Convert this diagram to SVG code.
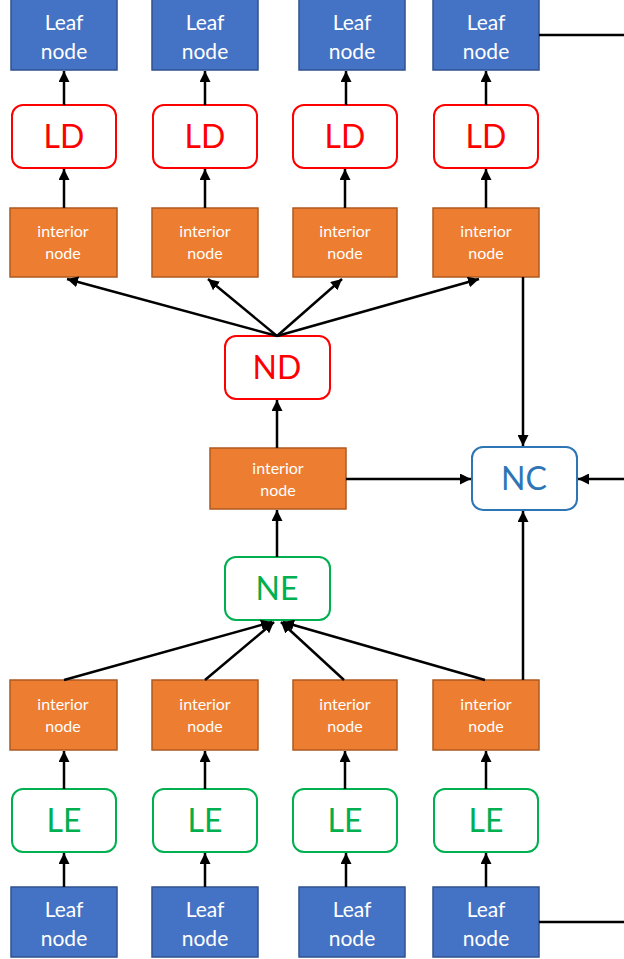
<svg xmlns="http://www.w3.org/2000/svg" width="624" height="959" viewBox="0 0 624 959">
<defs>
<marker id="ah" viewBox="0 0 10 10" refX="10" refY="5" markerWidth="4.4" markerHeight="4.4" markerUnits="strokeWidth" orient="auto">
<path d="M0,0 L10,5 L0,10 z" fill="#000"/>
</marker>
<style>
.leaf{fill:#4472C4;stroke:#2F528F;stroke-width:1.5}
.int{fill:#ED7D31;stroke:#AE5A21;stroke-width:1.5}
.ld{fill:#fff;stroke:#FF0000;stroke-width:2}
.le{fill:#fff;stroke:#00B050;stroke-width:2}
.nc{fill:#fff;stroke:#2E75B6;stroke-width:2}
.tl{font-family:Lato,"Open Sans",sans-serif;font-size:21px;fill:#fff;text-anchor:middle}
.ti{font-family:Lato,"Open Sans",sans-serif;font-size:16px;fill:#fff;text-anchor:middle}
.tb{font-family:Lato,"Open Sans",sans-serif;font-size:32px;text-anchor:middle}
.c{stroke:#000;stroke-width:2.5;fill:none}
.a{marker-end:url(#ah)}
</style>
</defs>

<g id="leaf-top-1"><rect class="leaf" x="11" y="-1" width="106" height="71"/><text class="tl" x="64" y="30">Leaf</text><text class="tl" x="64" y="59">node</text></g>
<g id="leaf-top-2"><rect class="leaf" x="152" y="-1" width="106" height="71"/><text class="tl" x="205" y="30">Leaf</text><text class="tl" x="205" y="59">node</text></g>
<g id="leaf-top-3"><rect class="leaf" x="299" y="-1" width="106" height="71"/><text class="tl" x="352" y="30">Leaf</text><text class="tl" x="352" y="59">node</text></g>
<g id="leaf-top-4"><rect class="leaf" x="433" y="-1" width="106" height="71"/><text class="tl" x="486" y="30">Leaf</text><text class="tl" x="486" y="59">node</text></g>

<g id="ld-1"><rect class="ld" x="12" y="105" width="104" height="63" rx="11"/><text class="tb" x="64" y="148" fill="#FF0000">LD</text></g>
<g id="ld-2"><rect class="ld" x="153" y="105" width="104" height="63" rx="11"/><text class="tb" x="205" y="148" fill="#FF0000">LD</text></g>
<g id="ld-3"><rect class="ld" x="293" y="105" width="104" height="63" rx="11"/><text class="tb" x="345" y="148" fill="#FF0000">LD</text></g>
<g id="ld-4"><rect class="ld" x="434" y="105" width="104" height="63" rx="11"/><text class="tb" x="486" y="148" fill="#FF0000">LD</text></g>

<g id="int-top-1"><rect class="int" x="10" y="208" width="107" height="69"/><text class="ti" x="63" y="237">interior</text><text class="ti" x="63" y="259">node</text></g>
<g id="int-top-2"><rect class="int" x="152" y="208" width="106" height="69"/><text class="ti" x="205" y="237">interior</text><text class="ti" x="205" y="259">node</text></g>
<g id="int-top-3"><rect class="int" x="293" y="208" width="104" height="69"/><text class="ti" x="345" y="237">interior</text><text class="ti" x="345" y="259">node</text></g>
<g id="int-top-4"><rect class="int" x="433" y="208" width="106" height="69"/><text class="ti" x="486" y="237">interior</text><text class="ti" x="486" y="259">node</text></g>

<g id="nd"><rect class="ld" x="225" y="336" width="105" height="63" rx="11"/><text class="tb" x="277" y="379" fill="#FF0000">ND</text></g>

<g id="int-mid"><rect class="int" x="210" y="448" width="136" height="61"/><text class="ti" x="278" y="474">interior</text><text class="ti" x="278" y="496">node</text></g>

<g id="nc"><rect class="nc" x="472" y="447" width="105" height="63" rx="11"/><text class="tb" x="524" y="490" fill="#2E75B6">NC</text></g>

<g id="ne"><rect class="le" x="225" y="557" width="105" height="63" rx="11"/><text class="tb" x="277" y="600" fill="#00B050">NE</text></g>

<g id="int-bot-1"><rect class="int" x="10" y="680" width="107" height="70"/><text class="ti" x="63" y="710">interior</text><text class="ti" x="63" y="732">node</text></g>
<g id="int-bot-2"><rect class="int" x="152" y="680" width="106" height="70"/><text class="ti" x="205" y="710">interior</text><text class="ti" x="205" y="732">node</text></g>
<g id="int-bot-3"><rect class="int" x="293" y="680" width="104" height="70"/><text class="ti" x="345" y="710">interior</text><text class="ti" x="345" y="732">node</text></g>
<g id="int-bot-4"><rect class="int" x="433" y="680" width="106" height="70"/><text class="ti" x="486" y="710">interior</text><text class="ti" x="486" y="732">node</text></g>

<g id="le-1"><rect class="le" x="12" y="789" width="104" height="63" rx="11"/><text class="tb" x="64" y="832" fill="#00B050">LE</text></g>
<g id="le-2"><rect class="le" x="153" y="789" width="104" height="63" rx="11"/><text class="tb" x="205" y="832" fill="#00B050">LE</text></g>
<g id="le-3"><rect class="le" x="293" y="789" width="104" height="63" rx="11"/><text class="tb" x="345" y="832" fill="#00B050">LE</text></g>
<g id="le-4"><rect class="le" x="434" y="789" width="104" height="63" rx="11"/><text class="tb" x="486" y="832" fill="#00B050">LE</text></g>

<g id="leaf-bot-1"><rect class="leaf" x="11" y="887" width="106" height="70"/><text class="tl" x="64" y="917">Leaf</text><text class="tl" x="64" y="946">node</text></g>
<g id="leaf-bot-2"><rect class="leaf" x="152" y="887" width="106" height="70"/><text class="tl" x="205" y="917">Leaf</text><text class="tl" x="205" y="946">node</text></g>
<g id="leaf-bot-3"><rect class="leaf" x="299" y="887" width="106" height="70"/><text class="tl" x="352" y="917">Leaf</text><text class="tl" x="352" y="946">node</text></g>
<g id="leaf-bot-4"><rect class="leaf" x="433" y="887" width="106" height="70"/><text class="tl" x="486" y="917">Leaf</text><text class="tl" x="486" y="946">node</text></g>

<g id="connectors">
<line class="c a" x1="64" y1="105" x2="64" y2="71"/>
<line class="c a" x1="205" y1="105" x2="205" y2="71"/>
<line class="c a" x1="346" y1="105" x2="346" y2="71"/>
<line class="c a" x1="486" y1="105" x2="486" y2="71"/>
<line class="c a" x1="64" y1="208" x2="64" y2="169"/>
<line class="c a" x1="205" y1="208" x2="205" y2="169"/>
<line class="c a" x1="345" y1="208" x2="345" y2="169"/>
<line class="c a" x1="486" y1="208" x2="486" y2="169"/>
<line class="c a" x1="277" y1="336" x2="67" y2="279"/>
<line class="c a" x1="277" y1="336" x2="208" y2="279"/>
<line class="c a" x1="277" y1="336" x2="342" y2="279"/>
<line class="c a" x1="277" y1="336" x2="479" y2="279"/>
<line class="c" x1="539" y1="35" x2="624" y2="35"/>
<line class="c a" x1="523" y1="277" x2="523" y2="446"/>
<line class="c a" x1="277" y1="448" x2="277" y2="400"/>
<line class="c a" x1="346" y1="479" x2="471" y2="479"/>
<line class="c a" x1="624" y1="479" x2="578" y2="479"/>
<line class="c a" x1="277" y1="557" x2="277" y2="510"/>
<line class="c a" x1="64" y1="680" x2="272" y2="622"/>
<line class="c a" x1="205" y1="680" x2="274" y2="622"/>
<line class="c a" x1="344" y1="680" x2="281" y2="622"/>
<line class="c a" x1="485" y1="680" x2="283" y2="622"/>
<line class="c a" x1="523" y1="680" x2="523" y2="511"/>
<line class="c a" x1="64" y1="789" x2="64" y2="751"/>
<line class="c a" x1="205" y1="789" x2="205" y2="751"/>
<line class="c a" x1="345" y1="789" x2="345" y2="751"/>
<line class="c a" x1="486" y1="789" x2="486" y2="751"/>
<line class="c a" x1="64" y1="887" x2="64" y2="853"/>
<line class="c a" x1="205" y1="887" x2="205" y2="853"/>
<line class="c a" x1="346" y1="887" x2="346" y2="853"/>
<line class="c a" x1="486" y1="887" x2="486" y2="853"/>
<line class="c" x1="539" y1="922" x2="624" y2="922"/>
</g>
</svg>
